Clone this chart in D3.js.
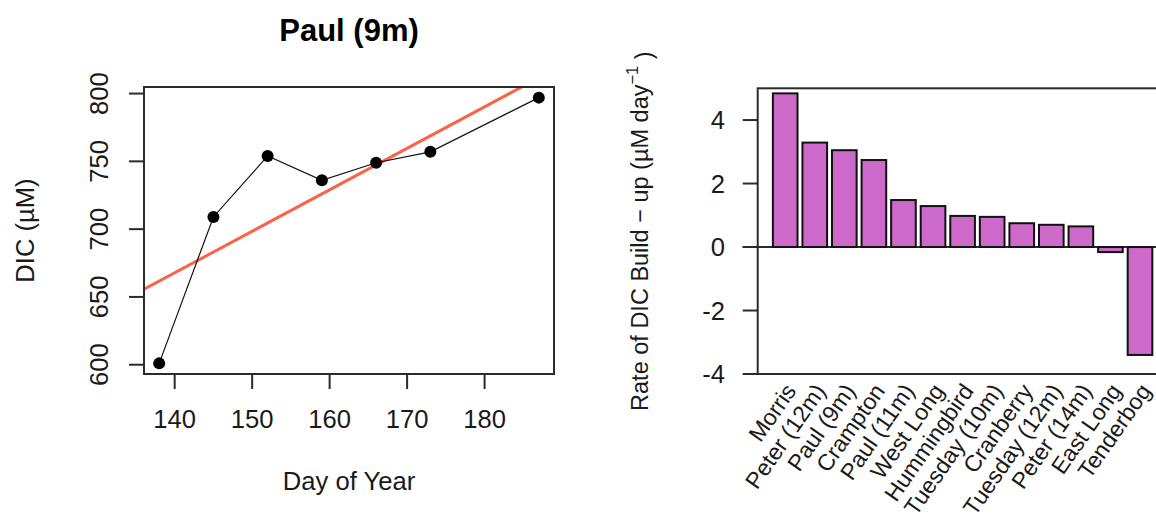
<!DOCTYPE html>
<html>
<head>
<meta charset="utf-8">
<script src="https://cdn.jsdelivr.net/npm/d3@7/dist/d3.min.js"></script>
<style>
    html, body { margin: 0; padding: 0; background: #fff; }
    svg { display: block; font-family: "Liberation Sans", Arial, sans-serif; }
</style>
</head>
<body>
<div id="chart"></div>
<script>
// Left panel: DIC over time at Paul (9m), with linear fit
const days = [138, 145, 152, 159, 166, 173, 187];
const dic = [601, 709, 754, 736, 749, 757, 797];
const fitIntercept = 239.4;
const fitSlope = 3.06;
const dayTicks = [140, 150, 160, 170, 180];
const dicTicks = [600, 650, 700, 750, 800];

// Right panel: rate of DIC build-up per site
const sites = ['Morris', 'Peter (12m)', 'Paul (9m)', 'Crampton', 'Paul (11m)', 'West Long',
    'Hummingbird', 'Tuesday (10m)', 'Cranberry', 'Tuesday (12m)', 'Peter (14m)', 'East Long', 'Tenderbog'];
const rates = [4.84, 3.29, 3.05, 2.74, 1.48, 1.29, 0.98, 0.95, 0.75, 0.70, 0.65, -0.16, -3.40];
const rateTicks = [-4, -2, 0, 2, 4];

const width = 1156;
const height = 519;
const fontSize = 25.6;
const boxColor = '#2b2b2b';
const tickLen = 15;

const svg = d3.select('#chart').append('svg')
    .attr('width', width)
    .attr('height', height);

// R style axis range: data extent padded by 4%
function pad(ext) {
    const d = (ext[1] - ext[0]) * 0.04;
    return [ext[0] - d, ext[1] + d];
}

// ---------- left panel ----------
const L = { left: 144, right: 554, top: 87, bottom: 374 };
const x1 = d3.scaleLinear().domain(pad(d3.extent(days))).range([L.left, L.right]);
const y1 = d3.scaleLinear().domain(pad(d3.extent(dic))).range([L.bottom, L.top]);

svg.append('defs').append('clipPath')
    .attr('id', 'clipLeft')
    .append('rect')
    .attr('x', L.left).attr('y', L.top)
    .attr('width', L.right - L.left).attr('height', L.bottom - L.top);

const left = svg.append('g');

// fit line (abline), clipped to the plot box
const xd = x1.domain();
left.append('line')
    .attr('clip-path', 'url(#clipLeft)')
    .attr('x1', x1(xd[0]))
    .attr('y1', y1(fitIntercept + fitSlope * xd[0]))
    .attr('x2', x1(xd[1]))
    .attr('y2', y1(fitIntercept + fitSlope * xd[1]))
    .attr('stroke', '#fa6347')
    .attr('stroke-width', 3);

const pts = days.map((d, i) => [d, dic[i]]);
left.append('path')
    .datum(pts)
    .attr('fill', 'none')
    .attr('stroke', '#111')
    .attr('stroke-width', 1.2)
    .attr('d', d3.line().x((d) => x1(d[0])).y((d) => y1(d[1])));

left.selectAll('circle').data(pts).enter().append('circle')
    .attr('cx', (d) => x1(d[0]))
    .attr('cy', (d) => y1(d[1]))
    .attr('r', 6)
    .attr('fill', '#000');

left.append('rect')
    .attr('x', L.left).attr('y', L.top)
    .attr('width', L.right - L.left).attr('height', L.bottom - L.top)
    .attr('fill', 'none')
    .attr('stroke', boxColor)
    .attr('stroke-width', 2);

// x axis
left.selectAll('line.xt').data(dayTicks).enter().append('line')
    .attr('class', 'xt')
    .attr('x1', (d) => x1(d)).attr('x2', (d) => x1(d))
    .attr('y1', L.bottom).attr('y2', L.bottom + tickLen)
    .attr('stroke', boxColor).attr('stroke-width', 2);
left.selectAll('text.xl').data(dayTicks).enter().append('text')
    .attr('class', 'xl')
    .attr('x', (d) => x1(d))
    .attr('y', 428)
    .attr('text-anchor', 'middle')
    .attr('font-size', fontSize)
    .attr('fill', '#1a1a1a')
    .text((d) => d);

// y axis
left.selectAll('line.yt').data(dicTicks).enter().append('line')
    .attr('class', 'yt')
    .attr('x1', L.left - tickLen).attr('x2', L.left)
    .attr('y1', (d) => y1(d)).attr('y2', (d) => y1(d))
    .attr('stroke', boxColor).attr('stroke-width', 2);
left.selectAll('text.yl').data(dicTicks).enter().append('text')
    .attr('class', 'yl')
    .attr('transform', (d) => `translate(108, ${y1(d)}) rotate(-90)`)
    .attr('text-anchor', 'middle')
    .attr('font-size', fontSize)
    .attr('fill', '#1a1a1a')
    .text((d) => d);

left.append('text')
    .attr('x', (L.left + L.right) / 2)
    .attr('y', 41)
    .attr('text-anchor', 'middle')
    .attr('font-size', 31)
    .attr('font-weight', 'bold')
    .attr('fill', '#000')
    .text('Paul (9m)');

left.append('text')
    .attr('x', (L.left + L.right) / 2)
    .attr('y', 490)
    .attr('text-anchor', 'middle')
    .attr('font-size', fontSize)
    .attr('fill', '#1a1a1a')
    .text('Day of Year');

left.append('text')
    .attr('transform', `translate(33.5, ${(L.top + L.bottom) / 2}) rotate(-90)`)
    .attr('text-anchor', 'middle')
    .attr('font-size', fontSize)
    .attr('fill', '#1a1a1a')
    .text('DIC (µM)');

// ---------- right panel ----------
const R = { left: 757.7, right: 1167.5, top: 88.3, bottom: 374 };
const x2 = d3.scaleBand()
    .domain(sites)
    .range([R.left, R.right])
    .paddingInner(0.2 / 1.2)
    .paddingOuter(0.616 / 1.2);
const y2 = d3.scaleLinear().domain([-4, 5]).range([R.bottom, R.top]);

const right = svg.append('g');

right.append('line')
    .attr('x1', R.left - tickLen).attr('x2', R.right)
    .attr('y1', y2(0)).attr('y2', y2(0))
    .attr('stroke', boxColor).attr('stroke-width', 2);

right.selectAll('rect.bar').data(sites).enter().append('rect')
    .attr('class', 'bar')
    .attr('x', (d) => x2(d))
    .attr('width', x2.bandwidth())
    .attr('y', (d, i) => y2(Math.max(0, rates[i])))
    .attr('height', (d, i) => Math.abs(y2(rates[i]) - y2(0)))
    .attr('fill', '#cd69c9')
    .attr('stroke', '#111')
    .attr('stroke-width', 2);

right.append('rect')
    .attr('x', R.left).attr('y', R.top)
    .attr('width', R.right - R.left).attr('height', R.bottom - R.top)
    .attr('fill', 'none')
    .attr('stroke', boxColor)
    .attr('stroke-width', 2);

right.selectAll('line.yt').data(rateTicks).enter().append('line')
    .attr('class', 'yt')
    .attr('x1', R.left - tickLen).attr('x2', R.left)
    .attr('y1', (d) => y2(d)).attr('y2', (d) => y2(d))
    .attr('stroke', boxColor).attr('stroke-width', 2);
right.selectAll('text.yl').data(rateTicks).enter().append('text')
    .attr('class', 'yl')
    .attr('x', 725)
    .attr('y', (d) => y2(d))
    .attr('dy', '0.36em')
    .attr('text-anchor', 'end')
    .attr('font-size', fontSize)
    .attr('fill', '#1a1a1a')
    .text((d) => d);

// slanted site labels, ending just under each bar
right.selectAll('text.xl').data(sites).enter().append('text')
    .attr('class', 'xl')
    .attr('transform', (d) => `translate(${x2(d) + x2.bandwidth() / 2 + 12}, 391) rotate(-55)`)
    .attr('text-anchor', 'end')
    .attr('font-size', 23)
    .attr('fill', '#1a1a1a')
    .text((d) => d);

const ylab = right.append('text')
    .attr('transform', `translate(648, ${(R.top + R.bottom) / 2}) rotate(-90)`)
    .attr('text-anchor', 'middle')
    .attr('font-size', 23.5)
    .attr('fill', '#1a1a1a');
ylab.append('tspan').text('Rate of DIC Build − up (µM day');
ylab.append('tspan').attr('dy', '-0.6em').attr('font-size', 16.5).text('−1');
ylab.append('tspan').attr('dy', '0.6em').text(' )');
</script>
</body>
</html>
